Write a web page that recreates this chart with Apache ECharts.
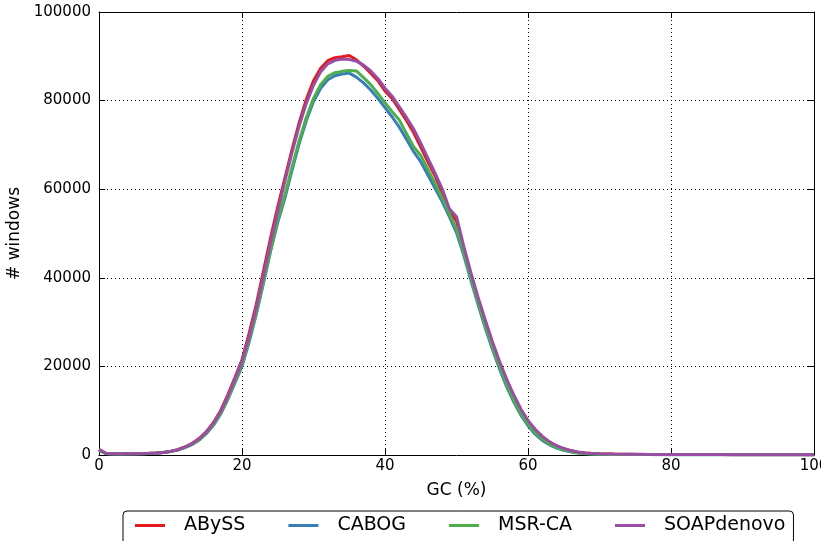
<!DOCTYPE html>
<html>
<head>
<meta charset="utf-8">
<title>GC content</title>
<script src="https://cdn.jsdelivr.net/npm/echarts@6/dist/echarts.min.js"></script>
<style>
  html, body { margin: 0; padding: 0; background: #fff; }
  #chart { width: 821px; height: 541px; }
</style>
</head>
<body>
<div id="chart"></div>
<script>
// GC (%) bins 0..100
const gcBins = []
for (let i = 0; i <= 100; i++) gcBins.push(i)

const xTicks = [0, 20, 40, 60, 80, 100]
const yTicks = [0, 20000, 40000, 60000, 80000, 100000]

const seriesNames = ['ABySS', 'CABOG', 'MSR-CA', 'SOAPdenovo']

// tail 71..100
const tailAbyss = [230, 200, 180, 165, 150, 140, 130, 120, 115, 110, 105, 100, 100, 95, 90, 90, 85, 80, 80, 75, 70, 70, 65, 60, 60, 55, 50, 50, 45, 40]
const tailCabog = [140, 120, 110, 100, 95, 90, 85, 80, 75, 70, 70, 65, 60, 60, 55, 55, 50, 50, 45, 45, 40, 40, 40, 35, 35, 30, 30, 30, 25, 25]
const tailMsrca = [160, 140, 125, 115, 105, 100, 95, 90, 85, 80, 75, 70, 70, 65, 60, 60, 55, 55, 50, 50, 45, 45, 40, 40, 35, 35, 35, 30, 30, 30]
const tailSoap = [240, 210, 190, 170, 155, 145, 135, 125, 120, 115, 110, 105, 100, 95, 95, 90, 85, 85, 80, 75, 75, 70, 65, 65, 60, 55, 55, 50, 45, 45]

const abyss = [
  1200, 350, 280, 260, 270, 290, 320, 370, 440, 580,
  820, 1200, 1800, 2600, 3700, 5200, 7300, 10000, 13500, 17400,
  21500, 27500, 34000, 41500, 49000, 56000, 62500, 69000, 75000, 80300,
  84500, 87300, 89000, 89700, 89900, 90200, 89200, 87800, 86200, 84500,
  82200, 80500, 78000, 75500, 72800, 69500, 66200, 63000, 59300, 55000,
  52800, 46500, 40800, 35300, 30200, 25300, 20800, 16800, 13200, 10100,
  7600, 5600, 4100, 2900, 2000, 1400, 950, 650, 450, 330,
  260
].concat(tailAbyss)

const cabog = [
  1000, 300, 250, 240, 250, 270, 300, 350, 420, 550,
  770, 1100, 1650, 2350, 3350, 4800, 6700, 9200, 12500, 16200,
  20000, 25500, 31800, 38800, 46000, 52500, 58000, 64300, 70300, 75500,
  79800, 82800, 84700, 85600, 86000, 86200, 85300, 84000, 82400, 80500,
  78400, 76300, 74000, 71300, 68500, 66200, 63200, 60200, 57200, 53800,
  50200, 45200, 39500, 34000, 28800, 24000, 19500, 15500, 12000, 9000,
  6600, 4700, 3300, 2300, 1550, 1050, 700, 450, 300, 220,
  170
].concat(tailCabog)

const msrca = [
  1100, 320, 260, 250, 260, 280, 310, 360, 430, 560,
  790, 1150, 1700, 2400, 3400, 4900, 6800, 9300, 12600, 16400,
  20400, 25800, 32000, 39000, 46300, 53000, 58700, 65000, 71000, 76200,
  80500, 83600, 85500, 86300, 86600, 86800, 86700, 85200, 83600, 81600,
  79500, 77500, 75600, 72600, 69600, 67600, 64500, 61300, 58000, 54500,
  51000, 45800, 40000, 34500, 29300, 24500, 20000, 16000, 12400, 9400,
  6900, 5000, 3600, 2500, 1700, 1150, 780, 520, 350, 250,
  190
].concat(tailMsrca)

const soapdenovo = [
  1300, 350, 280, 260, 270, 290, 320, 370, 440, 580,
  810, 1180, 1780, 2550, 3650, 5100, 7150, 9800, 13200, 17100,
  21200, 26800, 33200, 40500, 48000, 55000, 61800, 68300, 74300, 79400,
  83500, 86500, 88300, 89100, 89400, 89300, 88900, 88000, 86700, 85000,
  82800, 81000, 78600, 76200, 73600, 70400, 67000, 63600, 60100, 55600,
  53800, 47200, 41200, 35700, 30600, 25700, 21200, 17200, 13600, 10400,
  7800, 5800, 4200, 3000, 2100, 1500, 1000, 700, 480, 350,
  270
].concat(tailSoap)

const seriesData = [abyss, cabog, msrca, soapdenovo]
const seriesColors = ['#e41a1c', '#377eb8', '#4daf4a', '#984ea3']

const FONT = 'DejaVu Sans'

const chart = echarts.init(document.getElementById('chart'), null, { renderer: 'canvas' })

/* shared axis pieces */
const boxLine = { show: true, onZero: false, lineStyle: { color: '#000', width: 1 } }
const inTick = { show: true, inside: true, length: 6, lineStyle: { color: '#000', width: 1 } }
const dotGrid = { show: true, lineStyle: { color: '#000', width: 1, type: [1, 3] } }

chart.setOption({
  animation: false,
  backgroundColor: '#fff',
  grid: { left: 99, right: 7, top: 12, bottom: 86, outerBoundsMode: 'none', containLabel: false },
  /* legend: boxed row under the plot */
  legend: {
    data: seriesNames,
    left: 123,
    top: 511,
    orient: 'horizontal',
    icon: 'rect',
    itemWidth: 30,
    itemHeight: 3,
    itemGap: 43,
    borderColor: '#000',
    borderWidth: 1,
    borderRadius: 4,
    padding: [5, 8, 20, 12],
    textStyle: { fontFamily: FONT, fontSize: 19, color: '#000', padding: [0, 0, 0, 14] }
  },
  xAxis: [
    {
      type: 'value',
      min: 0,
      max: 100,
      interval: 20,
      position: 'bottom',
      name: 'GC (%)',
      nameLocation: 'middle',
      nameGap: 27,
      nameTextStyle: { fontFamily: FONT, fontSize: 17, color: '#000' },
      axisLine: boxLine,
      axisTick: inTick,
      axisLabel: {
        fontFamily: FONT,
        fontSize: 15,
        color: '#000',
        margin: 4,
        formatter: v => (xTicks.indexOf(v) >= 0 ? String(v) : '')
      },
      splitLine: dotGrid
    },
    {
      type: 'value',
      min: 0,
      max: 100,
      interval: 20,
      position: 'top',
      axisLine: boxLine,
      axisTick: inTick,
      axisLabel: { show: false },
      splitLine: { show: false }
    }
  ],
  yAxis: [
    {
      type: 'value',
      min: 0,
      max: 100000,
      interval: 20000,
      position: 'left',
      name: '# windows',
      nameLocation: 'middle',
      nameGap: 72,
      nameRotate: 90,
      nameTextStyle: { fontFamily: FONT, fontSize: 17, color: '#000' },
      axisLine: boxLine,
      axisTick: inTick,
      axisLabel: {
        fontFamily: FONT,
        fontSize: 15,
        color: '#000',
        margin: 8,
        formatter: v => (yTicks.indexOf(v) >= 0 ? String(v) : '')
      },
      splitLine: dotGrid
    },
    {
      type: 'value',
      min: 0,
      max: 100000,
      interval: 20000,
      position: 'right',
      axisLine: boxLine,
      axisTick: inTick,
      axisLabel: { show: false },
      splitLine: { show: false }
    }
  ],
  series: seriesNames.map((name, k) => ({
    name: name,
    type: 'line',
    xAxisIndex: 0,
    yAxisIndex: 0,
    showSymbol: false,
    symbol: 'none',
    color: seriesColors[k],
    lineStyle: { color: seriesColors[k], width: 3 },
    data: gcBins.map((gc, i) => [gc, seriesData[k][i]])
  }))
})
</script>
</body>
</html>
